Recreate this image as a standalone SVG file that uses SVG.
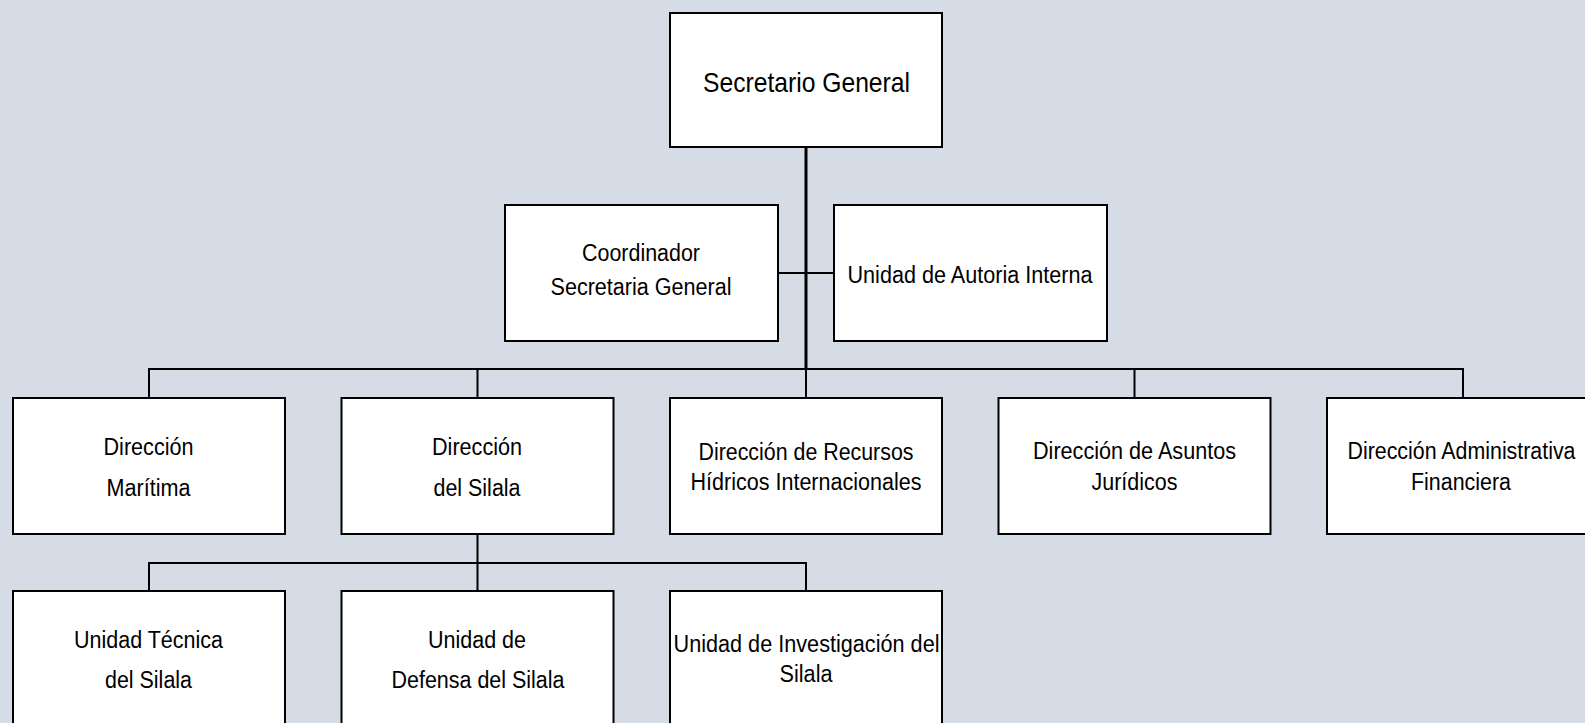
<svg xmlns="http://www.w3.org/2000/svg" width="1585" height="723" viewBox="0 0 1585 723">
<style>
.bg{fill:#D6DCE5}
.box{fill:#FFFFFF;stroke:#000000;stroke-width:2}
.ln{fill:none;stroke:#000000;stroke-width:2}
.trunk{fill:none;stroke:#000000;stroke-width:3}
text{font-family:"Liberation Sans",Arial,sans-serif;font-size:23.5px;fill:#000000;text-anchor:middle}
.big{font-size:28px}
</style>
<rect class="bg" x="0" y="0" width="1585" height="723"/>
<g id="connectors">
<path class="trunk" d="M806 147 V369"/>
<path class="ln" d="M778 273 H834"/>
<path class="ln" d="M149 398 V369 H1463 V398 M477.5 369 V398 M806 369 V398 M1134.5 369 V398"/>
<path class="ln" d="M477.5 534 V563 M149 591 V563 H806 V591 M477.5 563 V591"/>
</g>
<g id="secretario-general">
<rect class="box" x="670" y="13" width="272" height="134"/>
<text class="big" x="806.5" y="92" textLength="207" lengthAdjust="spacingAndGlyphs">Secretario General</text>
</g>
<g id="coordinador">
<rect class="box" x="505" y="205" width="273" height="136"/>
<text x="641" y="261" textLength="118" lengthAdjust="spacingAndGlyphs">Coordinador</text>
<text x="641" y="295" textLength="181" lengthAdjust="spacingAndGlyphs">Secretaria General</text>
</g>
<g id="unidad-autoria">
<rect class="box" x="834" y="205" width="273" height="136"/>
<text x="970" y="283" textLength="245" lengthAdjust="spacingAndGlyphs">Unidad de Autoria Interna</text>
</g>
<g id="direccion-maritima">
<rect class="box" x="13" y="398" width="272" height="136"/>
<text x="148.5" y="455" textLength="90" lengthAdjust="spacingAndGlyphs">Dirección</text>
<text x="148.5" y="496" textLength="84" lengthAdjust="spacingAndGlyphs">Marítima</text>
</g>
<g id="direccion-silala">
<rect class="box" x="341.5" y="398" width="272" height="136"/>
<text x="477" y="455" textLength="90" lengthAdjust="spacingAndGlyphs">Dirección</text>
<text x="477" y="496" textLength="87" lengthAdjust="spacingAndGlyphs">del Silala</text>
</g>
<g id="direccion-recursos">
<rect class="box" x="670" y="398" width="272" height="136"/>
<text x="806" y="460" textLength="215" lengthAdjust="spacingAndGlyphs">Dirección de Recursos</text>
<text x="806" y="490" textLength="231" lengthAdjust="spacingAndGlyphs">Hídricos Internacionales</text>
</g>
<g id="direccion-juridicos">
<rect class="box" x="998.5" y="398" width="272" height="136"/>
<text x="1134.5" y="459" textLength="203" lengthAdjust="spacingAndGlyphs">Dirección de Asuntos</text>
<text x="1134.5" y="490" textLength="86" lengthAdjust="spacingAndGlyphs">Jurídicos</text>
</g>
<g id="direccion-administrativa">
<rect class="box" x="1327" y="398" width="272" height="136"/>
<text x="1461.5" y="459" textLength="228" lengthAdjust="spacingAndGlyphs">Dirección Administrativa</text>
<text x="1461" y="490" textLength="100" lengthAdjust="spacingAndGlyphs">Financiera</text>
</g>
<g id="unidad-tecnica">
<rect class="box" x="13" y="591" width="272" height="140"/>
<text x="148.5" y="648" textLength="149" lengthAdjust="spacingAndGlyphs">Unidad Técnica</text>
<text x="148.5" y="688" textLength="87" lengthAdjust="spacingAndGlyphs">del Silala</text>
</g>
<g id="unidad-defensa">
<rect class="box" x="341.5" y="591" width="272" height="140"/>
<text x="477" y="648" textLength="98" lengthAdjust="spacingAndGlyphs">Unidad de</text>
<text x="478" y="688" textLength="173" lengthAdjust="spacingAndGlyphs">Defensa del Silala</text>
</g>
<g id="unidad-investigacion">
<rect class="box" x="670" y="591" width="272" height="140"/>
<text x="806.5" y="652" textLength="266" lengthAdjust="spacingAndGlyphs">Unidad de Investigación del</text>
<text x="806" y="682" textLength="53" lengthAdjust="spacingAndGlyphs">Silala</text>
</g>
</svg>
